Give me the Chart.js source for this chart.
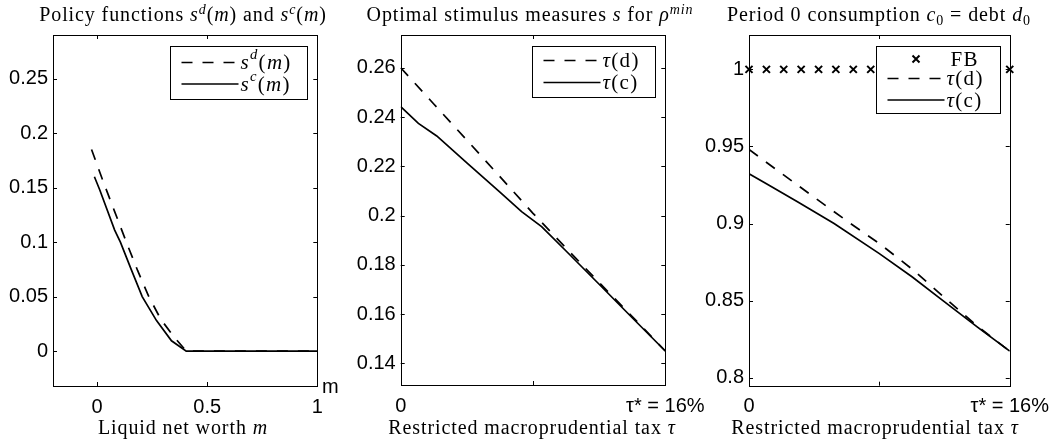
<!DOCTYPE html>
<html>
<head>
<meta charset="utf-8">
<script src="https://cdn.jsdelivr.net/npm/chart.js@4.4.0/dist/chart.umd.min.js"></script>
<style>
    body { margin: 0; background: #fff; width: 1058px; height: 445px; position: relative; overflow: hidden; }
    canvas { position: absolute; top: 0; }
    .t { position: absolute; font-family: "Liberation Serif", serif; font-size: 20px; line-height: 22px; letter-spacing: 0.9px;
         white-space: nowrap; transform: translateX(-50%); color: #000; }
    .t sup { font-size: 70%; vertical-align: 0.5em; line-height: 0; }
    .t sub { font-size: 70%; vertical-align: -0.25em; line-height: 0; }
    .m { position: absolute; font-family: "Liberation Sans", Arial, sans-serif; font-size: 20px; line-height: 22px; }
</style>
</head>
<body>
<canvas id="c1" width="350" height="445" style="left:0;width:350px;height:445px"></canvas>
<canvas id="c2" width="380" height="445" style="left:340px;width:380px;height:445px"></canvas>
<canvas id="c3" width="368" height="445" style="left:690px;width:368px;height:445px"></canvas>

<div class="t" style="left:183px;top:3px">Policy functions <i>s</i><sup><i>d</i></sup>(<i>m</i>) and <i>s</i><sup><i>c</i></sup>(<i>m</i>)</div>
<div class="t" style="left:530px;top:3px">Optimal stimulus measures <i>s</i> for <i>ρ</i><sup><i>min</i></sup></div>
<div class="t" style="left:879px;top:3px">Period 0 consumption <i>c</i><sub>0</sub> = debt <i>d</i><sub>0</sub></div>
<div class="t" style="left:183px;top:416px">Liquid net worth <i>m</i></div>
<div class="t" style="left:532px;top:416px">Restricted macroprudential tax <i>τ</i></div>
<div class="t" style="left:875px;top:416px">Restricted macroprudential tax <i>τ</i></div>
<div class="m" style="left:322px;top:375px">m</div>

<script>
// panel 1: policy functions over liquid net worth m
const mD = [-0.025, 0.027, 0.08, 0.133, 0.184, 0.235, 0.29, 0.35, 0.405, 1];
const sD = [0.185, 0.156, 0.128, 0.1, 0.074, 0.05, 0.029, 0.013, 0, 0];
const mC = [-0.012, 0.012, 0.08, 0.106, 0.155, 0.205, 0.27, 0.338, 0.405, 1];
const sC = [0.160, 0.148, 0.111, 0.1, 0.075, 0.05, 0.028, 0.0095, 0, 0];
const xTicks1 = [0, 0.5, 1];
const xLabels1 = ['0', '0.5', '1'];
const yTicks1 = [0, 0.05, 0.1, 0.15, 0.2, 0.25];
const yLabels1 = ['0', '0.05', '0.1', '0.15', '0.2', '0.25'];

// panel 2: optimal stimulus s vs restricted tax
const tauD2 = [0, 0.02, 0.04, 0.06, 0.08, 0.10, 0.12, 0.14, 0.16];
const stimD = [0.26, 0.2453, 0.2306, 0.2158, 0.2009, 0.1868, 0.1728, 0.159, 0.145];
const tauC2 = [0, 0.0107, 0.0218, 0.04, 0.06, 0.0731, 0.0852, 0.10, 0.12, 0.14, 0.16];
const stimC = [0.2442, 0.2374, 0.2323, 0.2214, 0.2095, 0.2016, 0.1955, 0.1856, 0.1721, 0.1585, 0.145];
const yTicks2 = [0.14, 0.16, 0.18, 0.2, 0.22, 0.24, 0.26];
const yLabels2 = ['0.14', '0.16', '0.18', '0.2', '0.22', '0.24', '0.26'];

// panel 3: period 0 consumption
const tauFB = [0, 0.0107, 0.0213, 0.032, 0.0427, 0.0533, 0.064, 0.0747, 0.0853, 0.096, 0.1067, 0.1173, 0.128, 0.1387, 0.1493, 0.16];
const consFB = [1, 1, 1, 1, 1, 1, 1, 1, 1, 1, 1, 1, 1, 1, 1, 1];
const tauD3 = [0, 0.02, 0.04, 0.0623, 0.08, 0.10, 0.121, 0.14, 0.16];
const consD = [0.948, 0.9325, 0.917, 0.9, 0.887, 0.8705, 0.851, 0.8335, 0.8172];
const tauC3 = [0, 0.0107, 0.03, 0.0522, 0.08, 0.10, 0.119, 0.14, 0.16];
const consC = [0.9323, 0.9258, 0.914, 0.9, 0.8805, 0.8655, 0.85, 0.833, 0.8172];
const yTicks3 = [0.8, 0.85, 0.9, 0.95, 1];
const yLabels3 = ['0.8', '0.85', '0.9', '0.95', '1'];

const xTicksTau = [0, 0.08, 0.16];
const xLabelsTau = ['0', '', 'τ* = 16%'];

const sans = '"Liberation Sans", Arial, sans-serif';
const serif = '"Liberation Serif", serif';
const DASH = [11, 10];

function pts(xs, ys) { return xs.map((x, i) => ({ x: x, y: ys[i] })); }

// italic / superscript pieces, drawn char by char with a little tracking
function drawRich(ctx, x, y, segs, size) {
    segs.forEach(([txt, st]) => {
        const sup = st.includes('sup');
        const it = st.includes('i');
        const fs = sup ? size * 0.7 : size;
        ctx.font = (it ? 'italic ' : '') + fs + 'px ' + serif;
        for (const ch of txt) {
            ctx.fillText(ch, x, sup ? y - size * 0.38 : y);
            x += ctx.measureText(ch).width + 1.3;
        }
    });
}

// box, inward ticks, and the framed legend
const framePlugin = {
    id: 'frame',
    afterDatasetsDraw(chart, args, opts) {
        const ctx = chart.ctx, a = chart.chartArea;
        const xs = chart.scales.x, ys = chart.scales.y;
        ctx.save();
        ctx.strokeStyle = '#000';
        ctx.lineWidth = 1;
        ctx.beginPath();
        xs.ticks.forEach(t => {
            const px = Math.round(xs.getPixelForValue(t.value)) + 0.5;
            ctx.moveTo(px, a.bottom); ctx.lineTo(px, a.bottom - 4);
            ctx.moveTo(px, a.top); ctx.lineTo(px, a.top + 4);
        });
        ys.ticks.forEach(t => {
            const py = Math.round(ys.getPixelForValue(t.value)) + 0.5;
            ctx.moveTo(a.left, py); ctx.lineTo(a.left + 4, py);
            ctx.moveTo(a.right, py); ctx.lineTo(a.right - 4, py);
        });
        ctx.stroke();
        ctx.strokeRect(Math.round(a.left) + 0.5, Math.round(a.top) + 0.5,
                       Math.round(a.right) - Math.round(a.left), Math.round(a.bottom) - Math.round(a.top));

        const lg = opts.legend;
        if (lg) {
            const bx = Math.round(a.right - lg.inset - lg.w) + 0.5, by = Math.round(a.top + 10.5) + 0.5;
            ctx.fillStyle = '#fff';
            ctx.fillRect(bx, by, lg.w, lg.h);
            ctx.strokeRect(bx, by, lg.w, lg.h);
            ctx.fillStyle = '#000';
            ctx.textBaseline = 'middle';
            lg.items.forEach((it, i) => {
                const y = by + lg.rows[i];
                let tx = bx + lg.textX;
                ctx.lineWidth = 1.7;
                if (it.kind === 'cross') {
                    const cx = bx + 39.5, r = 3.5;
                    ctx.lineWidth = 2;
                    ctx.beginPath();
                    ctx.moveTo(cx - r, y - r); ctx.lineTo(cx + r, y + r);
                    ctx.moveTo(cx - r, y + r); ctx.lineTo(cx + r, y - r);
                    ctx.stroke();
                    tx += 4;
                } else {
                    ctx.setLineDash(it.kind === 'dash' ? DASH : []);
                    ctx.beginPath();
                    ctx.moveTo(bx + 11, y); ctx.lineTo(bx + 68, y);
                    ctx.stroke();
                    ctx.setLineDash([]);
                }
                drawRich(ctx, tx, y + 1, it.label, 21);
            });
        }
        ctx.restore();
    }
};

function makeChart(id, cfg) {
    return new Chart(document.getElementById(id), {
        type: 'line',
        data: { datasets: cfg.datasets },
        options: {
            responsive: false,
            animation: false,
            layout: { padding: { left: 0, right: cfg.padRight, top: 35, bottom: 0 } },
            plugins: { legend: { display: false }, tooltip: { enabled: false }, frame: { legend: cfg.legend } },
            elements: { point: { radius: 0 }, line: { tension: 0 } },
            scales: {
                x: {
                    type: 'linear', min: cfg.xMin, max: cfg.xMax,
                    grid: { display: false, drawTicks: false },
                    border: { display: false },
                    afterFit: s => { s.height = cfg.xHeight; },
                    afterBuildTicks: s => { s.ticks = cfg.xTicks.map(v => ({ value: v })); },
                    ticks: {
                        autoSkip: false, maxRotation: 0, padding: 9, color: '#000',
                        font: { family: sans, size: 20 },
                        callback: (v, i) => cfg.xLabels[i]
                    }
                },
                y: {
                    type: 'linear', min: cfg.yMin, max: cfg.yMax,
                    grid: { display: false, drawTicks: false },
                    border: { display: false },
                    afterFit: s => { s.width = cfg.yWidth; },
                    afterBuildTicks: s => { s.ticks = cfg.yTicks.map(v => ({ value: v })); },
                    ticks: {
                        autoSkip: false, padding: 5, color: '#000',
                        font: { family: sans, size: 20 },
                        callback: (v, i) => cfg.yLabels[i]
                    }
                }
            }
        },
        plugins: [framePlugin]
    });
}

const dashed = (data) => ({ data: data, borderColor: '#000', borderWidth: 1.7, borderDash: DASH, fill: false });
const solid = (data) => ({ data: data, borderColor: '#000', borderWidth: 1.7, fill: false });

makeChart('c1', {
    datasets: [dashed(pts(mD, sD)), solid(pts(mC, sC))],
    xMin: -0.2, xMax: 1, yMin: -0.032, yMax: 0.29,
    xTicks: xTicks1, xLabels: xLabels1, yTicks: yTicks1, yLabels: yLabels1,
    yWidth: 53, padRight: 32.7, xHeight: 59,
    legend: {
        inset: 10, w: 137, h: 53, rows: [16, 37.5], textX: 70,
        items: [
            { kind: 'dash', label: [['s', 'i'], ['d', 'isup'], ['(', ''], ['m', 'i'], [')', '']] },
            { kind: 'solid', label: [['s', 'i'], ['c', 'isup'], ['(', ''], ['m', 'i'], [')', '']] }
        ]
    }
});

makeChart('c2', {
    datasets: [dashed(pts(tauD2, stimD)), solid(pts(tauC2, stimC))],
    xMin: 0, xMax: 0.16, yMin: 0.1312, yMax: 0.2733,
    xTicks: xTicksTau, xLabels: xLabelsTau, yTicks: yTicks2, yLabels: yLabels2,
    yWidth: 60.7, padRight: 54.7, xHeight: 60,
    legend: {
        inset: 10, w: 123, h: 51, rows: [14, 36], textX: 70,
        items: [
            { kind: 'dash', label: [['τ', 'i'], ['(d)', '']] },
            { kind: 'solid', label: [['τ', 'i'], ['(c)', '']] }
        ]
    }
});

makeChart('c3', {
    datasets: [
        { data: pts(tauFB, consFB), showLine: false, pointStyle: 'crossRot', pointRadius: 5,
          pointBorderWidth: 2, pointBorderColor: '#000', borderColor: '#000', clip: false },
        dashed(pts(tauD3, consD)), solid(pts(tauC3, consC))
    ],
    xMin: 0, xMax: 0.16, yMin: 0.7948, yMax: 1.0223,
    xTicks: xTicksTau, xLabels: xLabelsTau, yTicks: yTicks3, yLabels: yLabels3,
    yWidth: 59, padRight: 45.3, xHeight: 59.3,
    legend: {
        inset: 10, w: 124, h: 67, rows: [12.5, 32, 53.5], textX: 70,
        items: [
            { kind: 'cross', label: [['FB', '']] },
            { kind: 'dash', label: [['τ', 'i'], ['(d)', '']] },
            { kind: 'solid', label: [['τ', 'i'], ['(c)', '']] }
        ]
    }
});
</script>
</body>
</html>
